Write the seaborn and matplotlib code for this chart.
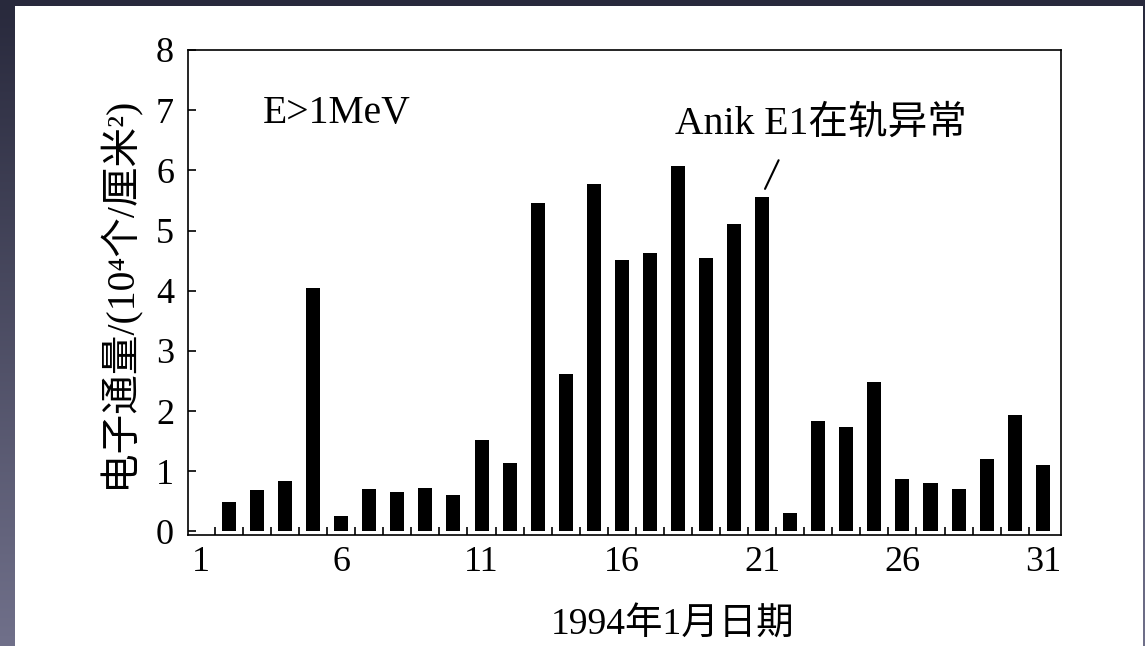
import numpy as np
import pandas as pd
import matplotlib
matplotlib.use("Agg")
import matplotlib.pyplot as plt
from matplotlib.patches import Rectangle
from matplotlib.ticker import FixedLocator
import seaborn as sns

# Daily >1 MeV electron fluence, January 1994 (10^4 per cm^2)
days = list(range(2, 32))
fluence = [0.49, 0.68, 0.83, 4.05, 0.26, 0.71, 0.66, 0.72, 0.60, 1.52,
           1.14, 5.46, 2.61, 5.77, 4.51, 4.62, 6.08, 4.55, 5.11, 5.56,
           0.31, 1.83, 1.73, 2.48, 0.87, 0.81, 0.71, 1.21, 1.94, 1.11]
xtick_days = [1, 6, 11, 16, 21, 26, 31]
ytick_vals = [0, 1, 2, 3, 4, 5, 6, 7, 8]
event_day = 21
event_label = "Anik E1在轨异常"
energy_label = "E>1MeV"
xlabel = "1994年1月日期"
ylabel = "电子通量/(10⁴个/厘米²)"

df = pd.DataFrame({"day": days, "fluence": fluence})

sns.set_theme(style="white")
plt.rcParams["font.family"] = ["Liberation Serif", "Noto Sans CJK SC", "DejaVu Sans"]
plt.rcParams["axes.unicode_minus"] = False

W, H, DPI = 1145, 646, 100
fig = plt.figure(figsize=(W / DPI, H / DPI), dpi=DPI)

# dark frame with a soft vertical gradient, white sheet on top
bg = fig.add_axes([0, 0, 1, 1], zorder=-10)
top = np.array([40, 41, 60]) / 255
bot = np.array([112, 112, 138]) / 255
t = np.linspace(0, 1, 256)[:, None]
grad = (top[None, :] * (1 - t) + bot[None, :] * t)[:, None, :]
bg.imshow(grad, aspect="auto", extent=[0, 1, 0, 1], origin="upper")
bg.add_patch(Rectangle((15 / W, 0), (1143 - 15) / W, (H - 6) / H,
                       facecolor="white", edgecolor="none"))
bg.set_xlim(0, 1)
bg.set_ylim(0, 1)
bg.axis("off")

ax = fig.add_axes([188 / W, (H - 535) / H, (1061 - 188) / W, (535 - 50) / H])
ax.set_facecolor("white")

sns.barplot(data=df, x="day", y="fluence", native_scale=True, width=0.5,
            color="black", saturation=1, edgecolor="black", linewidth=0,
            errorbar=None, ax=ax)

ax.set_xlim(0.54, 31.65)
ax.set_ylim(-0.06, 8)

fs = 26
fs_text = 28.5
ax.xaxis.set_major_locator(FixedLocator(xtick_days))
ax.set_xticklabels([str(d) for d in xtick_days], fontsize=fs)
ax.xaxis.set_minor_locator(FixedLocator([d + 0.5 for d in range(1, 31)]))
ax.set_yticks(ytick_vals)
ax.set_yticklabels([str(v) for v in ytick_vals], fontsize=fs)

ax.tick_params(axis="x", which="major", length=0, pad=8, colors="black")
ax.tick_params(axis="x", which="minor", direction="in", length=6, width=1.2,
               bottom=True, colors="black")
ax.tick_params(axis="y", which="major", direction="in", length=6, width=1.2,
               left=True, right=False, pad=10, colors="black")

for s in ax.spines.values():
    s.set_visible(True)
    s.set_color("black")
    s.set_linewidth(1.2)

ax.set_xlabel(xlabel, fontsize=27, labelpad=20, color="black")
ax.xaxis.set_label_coords(0.555, -0.15)
ax.set_ylabel(ylabel, fontsize=fs_text, labelpad=12, color="black")

ax.text(3.2, 6.94, energy_label, fontsize=fs_text, va="center", ha="left", color="black")

ev_val = fluence[days.index(event_day)]
ax.annotate("", xy=(event_day + 0.06, ev_val + 0.09), xytext=(event_day + 0.63, 6.21),
            arrowprops=dict(arrowstyle="-", lw=1.5, color="black"))
ax.text(event_day + 2.1, 6.77, event_label, fontsize=fs_text, va="center", ha="center",
        color="black")

fig.savefig("out.png", dpi=DPI)
